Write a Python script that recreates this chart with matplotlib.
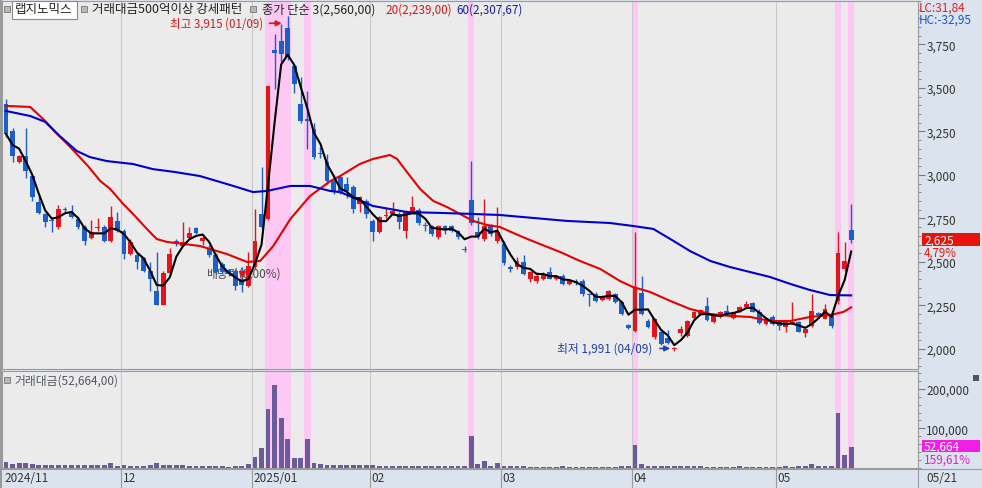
import numpy as np
import pandas as pd
import matplotlib
matplotlib.use("Agg")
import matplotlib.pyplot as plt
from matplotlib.patches import Rectangle
from matplotlib.lines import Line2D
from matplotlib.ticker import FixedLocator, MultipleLocator, FuncFormatter

plt.rcParams['font.family'] = ['Noto Sans CJK KR', 'DejaVu Sans']

# daily candles, 2024-11 .. 2025-05-21 (one row per month in the lists)
opens = [3408, 3253, 3075, 3109, 2994, 2845, 2776, 2740, 2701, 2805, 2787, 2747, 2701, 2638, 2695, 2701, 2621, 2736,
         2678, 2546, 2540, 2523, 2448, 2333, 2253, 2437, 2620, 2592, 2638, 2695, 2620, 2575, 2540, 2488, 2454, 2448, 2402, 2362,
         2471, 2776, 2747, 3720, 3771, 3845, 3629, 3408, 3320, 3264, 3125, 3075, 2965, 2988, 2948, 2931, 2833, 2851,
         2736, 2672, 2765, 2776, 2776, 2678, 2787, 2799, 2710, 2707, 2644, 2707, 2707, 2678, 2575, 2858, 2672, 2632, 2707, 2621,
         2603, 2470, 2470, 2500, 2402, 2393, 2405, 2442, 2402, 2420, 2375, 2388, 2393, 2312, 2316, 2281, 2287, 2316, 2270, 2138,
         2103, 2322, 2163, 2069, 2098, 2063, 1998, 2092, 2075, 2178, 2201, 2247, 2155, 2184, 2218, 2178, 2218, 2241, 2264, 2213, 2144, 2184,
         2155, 2126, 2148, 2155, 2092, 2132, 2207, 2172, 2195, 2276, 2460, 2684]
highs = [3437, 3270, 3115, 3270, 3000, 2880, 2780, 2750, 2830, 2815, 2830, 2760, 2710, 2740, 2750, 2710, 2822, 2790,
         2690, 2630, 2560, 2530, 2500, 2557, 2450, 2580, 2630, 2730, 2700, 2700, 2650, 2600, 2550, 2500, 2460, 2460, 2470, 2557,
         2805, 3046, 3510, 3810, 3868, 3915, 3640, 3563, 3484, 3300, 3160, 3120, 3000, 3000, 2990, 2940, 2880, 2860,
         2745, 2765, 2810, 2845, 2790, 2800, 2879, 2810, 2730, 2715, 2715, 2715, 2712, 2685, 2590, 3082, 2760, 2862, 2720, 2816,
         2620, 2480, 2530, 2540, 2450, 2440, 2445, 2470, 2425, 2430, 2400, 2400, 2400, 2320, 2325, 2312, 2340, 2322, 2275, 2145,
         2672, 2420, 2170, 2178, 2105, 2110, 2010, 2130, 2165, 2218, 2230, 2299, 2195, 2218, 2250, 2212, 2245, 2275, 2268, 2230, 2172, 2195,
         2160, 2160, 2270, 2160, 2120, 2316, 2215, 2258, 2210, 2672, 2615, 2833]
lows = [3220, 3075, 3070, 2983, 2850, 2775, 2700, 2675, 2690, 2790, 2750, 2690, 2600, 2630, 2680, 2615, 2615, 2670,
        2520, 2540, 2460, 2440, 2333, 2253, 2253, 2430, 2590, 2590, 2630, 2660, 2600, 2530, 2430, 2430, 2420, 2340, 2328, 2355,
        2460, 2690, 2740, 3494, 3650, 3660, 3470, 3300, 3149, 3090, 3100, 2950, 2890, 2890, 2870, 2780, 2790, 2750,
        2620, 2665, 2755, 2770, 2690, 2640, 2780, 2715, 2680, 2650, 2630, 2660, 2670, 2635, 2555, 2715, 2630, 2620, 2650, 2610,
        2480, 2445, 2460, 2425, 2385, 2380, 2395, 2400, 2395, 2370, 2370, 2365, 2305, 2247, 2270, 2275, 2280, 2262, 2195, 2115,
        2100, 2195, 2120, 2060, 2025, 2030, 1991, 2075, 2070, 2175, 2198, 2160, 2150, 2180, 2198, 2175, 2215, 2238, 2210, 2145, 2140, 2140,
        2110, 2095, 2145, 2095, 2070, 2128, 2190, 2170, 2120, 2260, 2450, 2610]
closes = [3236, 3109, 3109, 3023, 2874, 2782, 2730, 2736, 2805, 2799, 2759, 2701, 2621, 2672, 2701, 2621, 2759, 2678,
          2546, 2615, 2500, 2448, 2402, 2253, 2437, 2546, 2610, 2615, 2667, 2667, 2640, 2540, 2442, 2442, 2431, 2362, 2370, 2477,
          2621, 2701, 3510, 3700, 3695, 3678, 3523, 3312, 3312, 3103, 3120, 2965, 2902, 2902, 2908, 2805, 2874, 2776,
          2672, 2759, 2772, 2793, 2730, 2793, 2816, 2724, 2705, 2661, 2707, 2690, 2678, 2644, 2570, 2724, 2644, 2707, 2661, 2672,
          2494, 2460, 2508, 2431, 2442, 2420, 2431, 2405, 2420, 2375, 2393, 2383, 2316, 2308, 2278, 2307, 2335, 2270, 2200, 2121,
          2356, 2201, 2126, 2172, 2029, 2034, 2003, 2115, 2161, 2213, 2224, 2167, 2190, 2213, 2201, 2207, 2241, 2258, 2213, 2150, 2167, 2144,
          2132, 2155, 2152, 2098, 2115, 2218, 2195, 2230, 2132, 2550, 2505, 2625]
# trading value (거래대금)
volumes = [16000, 11000, 12600, 13000, 10000, 8400, 8400, 6700, 7500, 8400, 6700, 8400, 6700, 6700, 6700, 7000, 13000, 6000,
           6700, 6000, 6000, 6000, 6700, 13400, 8400, 6700, 6700, 7500, 6000, 6000, 6000, 5000, 5000, 5000, 3400, 5000, 4000, 9000,
           28000, 51000, 150000, 210000, 127000, 74000, 24000, 24000, 74000, 13000, 10000, 8400, 8400, 8400, 7500, 7500, 6700, 6700,
           6700, 6000, 6000, 6000, 5000, 6000, 5000, 5000, 5000, 5000, 5000, 5000, 5000, 5000, 5000, 80000, 11000, 18000, 5000, 12600,
           5000, 5000, 4200, 4200, 3400, 3400, 3400, 3400, 3400, 4200, 3400, 3400, 3400, 3400, 3400, 3400, 3400, 3400, 4200, 4200,
           57000, 10000, 5000, 5000, 5000, 5000, 5000, 4200, 4200, 4200, 4200, 3400, 3400, 3400, 3400, 3400, 4200, 3400, 3400, 3400, 3400, 3400,
           3400, 4200, 3400, 4200, 5000, 11000, 5000, 5000, 5000, 140000, 33000, 52664]

# moving averages (candle index, value)
ma20_x = [0, 3.7, 6, 7.5, 9.8, 12.5, 14.4, 15.9, 17.9, 19.4, 21.5, 23, 24.6, 29.6, 33.7, 36.8, 38.8, 40.8, 43.4,
          46.4, 49.5, 51, 54, 56, 58.6, 59.7, 61.2, 63.2, 65.2, 67.3, 69.3, 71.3, 73.4, 75.4, 78.5, 81.5, 84.6,
          87.6, 90.7, 93.7, 95.7, 98.3, 101.4, 104.4, 107.5, 110.5, 113.6, 116.6, 119.7, 122.7, 125.8, 127.8, 129]
ma20_v = [3397, 3391, 3310, 3247, 3161, 3052, 2965, 2920, 2833, 2776, 2690, 2632, 2615, 2592, 2546, 2500, 2506, 2592, 2747,
          2879, 2965, 2994, 3063, 3092, 3115, 3092, 3017, 2920, 2851, 2816, 2776, 2736, 2713, 2701, 2649, 2603, 2557,
          2506, 2460, 2391, 2356, 2328, 2276, 2230, 2201, 2190, 2184, 2161, 2161, 2184, 2195, 2213, 2239]
ma60_x = [0, 3.7, 6, 8.2, 10.8, 12.8, 15.4, 19.4, 22.4, 25.8, 29.6, 34.7, 37.7, 39.8, 43.4, 46.4, 49.5, 51, 56,
          61.2, 66.3, 71.3, 75.4, 85.6, 92.2, 95.7, 98.8, 101.4, 104.4, 107.5, 110.5, 113.6, 116.6, 119.7, 122.7, 125.8, 129]
ma60_v = [3368, 3339, 3305, 3224, 3138, 3103, 3080, 3063, 3034, 3017, 2994, 2937, 2902, 2908, 2937, 2937, 2908, 2902, 2822,
          2787, 2782, 2776, 2770, 2736, 2724, 2707, 2690, 2632, 2563, 2506, 2471, 2442, 2414, 2374, 2339, 2310, 2308]

highlight = [40, 41, 42, 43, 46, 71, 96, 127, 129]   # 거래대금500억이상 강세패턴 signal days
month_first = [18, 38, 56, 76, 96, 118]
month_labels = ['12', '2025/01', '02', '03', '04', '05']
price_ticks = [2000, 2250, 2500, 2750, 3000, 3250, 3500, 3750]
vol_ticks = [100000, 200000]

W, H = 982, 489
RED, BLUE = '#e3141b', '#1a5fcc'
XMIN, XMAX = -0.61, 139.2


def fx(x):
    return x / W


def fy(y):
    return 1 - y / H


def data_to_figx(i):
    return fx(2) + (i - XMIN) / (XMAX - XMIN) * (916 / W)


idx = np.arange(len(closes))
o, h, l, c = map(np.array, (opens, highs, lows, closes))
up = c >= o
colors = np.where(up, RED, BLUE)
ma3 = pd.Series(closes).rolling(3, min_periods=1).mean()

fig = plt.figure(figsize=(W / 100, H / 100), dpi=100, facecolor='#dbe4ee')
ax = fig.add_axes([fx(2), fy(370), 916 / W, 368 / H], facecolor='#ebebeb')
axv = fig.add_axes([fx(2), fy(469), 916 / W, 97 / H], facecolor='#ebebeb')

for a in (ax, axv):
    a.set_xlim(XMIN, XMAX)
    for i in highlight:
        a.axvspan(i - 0.5, i + 0.5, color='#fdc8f4', lw=0, zorder=0.5)
    for m in month_first:
        a.axvline(m - 0.5, color='#c9c9c9', lw=0.8, zorder=0.6)
    a.tick_params(axis='x', bottom=False, labelbottom=False)
    a.yaxis.tick_right()
    a.tick_params(axis='y', which='major', direction='out', length=5, color='#7a7a7a',
                  labelsize=8.5, labelcolor='#333333', pad=1)
    a.tick_params(axis='y', which='minor', direction='out', length=2.5, color='#7a7a7a')
    for s in a.spines.values():
        s.set_color('#9a9a9a')
        s.set_linewidth(0.8)

# candles
ax.vlines(idx, l, h, colors=colors, lw=1, zorder=3)
body = np.maximum(np.abs(c - o), 6)
ax.bar(idx, body, bottom=np.minimum(o, c), width=0.74, color=colors, lw=0, zorder=4)

ax.plot(ma20_x, ma20_v, color='#e60000', lw=1.5, zorder=5)
ax.plot(ma60_x, ma60_v, color='#0000cc', lw=1.5, zorder=5)
ax.plot(idx, ma3, color='black', lw=1.5, zorder=6)

ax.set_ylim(1885, 4000)
ax.yaxis.set_major_locator(FixedLocator(price_ticks))
ax.yaxis.set_minor_locator(MultipleLocator(50))
ax.yaxis.set_major_formatter(FuncFormatter(lambda v, p: f'{int(v):,}'))

# markers and notes
ax.plot(36, 2431, marker='v', color=RED, ms=5, zorder=7)
ax.text(30.6, 2435, '배당락(0,00%)', fontsize=8.5, color='#4a4a4a', va='center', zorder=2)
ax.text(39.2, 3872, '최고 3,915 (01/09)', fontsize=8.3, color='#d61a1a', ha='right', va='center')
ax.annotate('', xy=(42.5, 3872), xytext=(39.8, 3872),
            arrowprops=dict(arrowstyle='-|>', color='#d61a1a', lw=1.2, mutation_scale=8))
ax.text(98.6, 2003, '최저 1,991 (04/09)', fontsize=8.5, color='#2040b0', ha='right', va='center')
ax.annotate('', xy=(101.8, 2003), xytext=(99.4, 2003),
            arrowprops=dict(arrowstyle='-|>', color='#2040b0', lw=1.2, mutation_scale=8))

# volume
axv.bar(idx, volumes, width=0.74, color='#6a5c9a', lw=0, zorder=3)
axv.set_ylim(0, 245000)
axv.yaxis.set_major_locator(FixedLocator(vol_ticks))
axv.yaxis.set_minor_locator(MultipleLocator(20000))
axv.yaxis.set_major_formatter(FuncFormatter(lambda v, p: f'{int(v):,}'))

# frame pieces
fig.add_artist(Rectangle((0, 0), fx(2), 1, color='#9a9a9a', lw=0))
fig.add_artist(Line2D([0, 1], [fy(469.5), fy(469.5)], color='#9a9a9a', lw=0.8))
fig.add_artist(Line2D([fx(918), fx(918)], [0, fy(469)], color='#9a9a9a', lw=0.8))
for m, lab in zip(month_first, month_labels):
    xf = data_to_figx(m - 0.5)
    fig.add_artist(Line2D([xf, xf], [0, fy(469)], color='#9a9a9a', lw=0.8))
    fig.text(xf + fx(2), fy(479), lab, fontsize=8.5, color='#333333', va='center')
fig.text(fx(4), fy(479), '2024/11', fontsize=8.5, color='#333333', va='center')
fig.text(fx(926), fy(479), '05/21', fontsize=8.5, color='#333333', va='center')


def icon(x, y):
    fig.add_artist(Rectangle((fx(x), fy(y + 6)), fx(6), 6 / H, facecolor='#b8b8b8',
                             edgecolor='#777777', lw=0.6))


# header legend
icon(4, 7)
fig.add_artist(Rectangle((fx(12), fy(20)), fx(65), 18 / H, facecolor='white', edgecolor='#8a8a8a', lw=0.8))
fig.text(fx(15), fy(10), '랩지노믹스', fontsize=9, color='#222222', va='center')
icon(81, 7)
fig.text(fx(92), fy(10), '거래대금500억이상 강세패턴', fontsize=9, color='#222222', va='center')
icon(250, 7)
fig.text(fx(262), fy(10), '종가 단순 3(2,560,00)', fontsize=8.8, color='#222222', va='center')
fig.text(fx(385), fy(10), '20(2,239,00)', fontsize=8.4, color='#dd1111', va='center')
fig.text(fx(456), fy(10), '60(2,307,67)', fontsize=8.4, color='#1a1aaa', va='center')

icon(4, 378)
fig.text(fx(14), fy(381), '거래대금(52,664,00)', fontsize=8.5, color='#555566', va='center')

# right-hand value boxes
fig.text(fx(919), fy(8), 'LC:31,84', fontsize=8.5, color='#dd2222', va='center')
fig.text(fx(919), fy(20), 'HC:-32,95', fontsize=8.5, color='#2255cc', va='center')
fig.add_artist(Rectangle((fx(922), fy(247)), fx(58), 13 / H, color='#e8140c', lw=0))
fig.text(fx(924), fy(241), '2,625', fontsize=8.5, color='white', va='center')
fig.text(fx(924), fy(253), '4,79%', fontsize=8.3, color='#e8140c', va='center')
fig.add_artist(Rectangle((fx(922), fy(453)), fx(58), 12 / H, color='#f01ee6', lw=0))
fig.text(fx(924), fy(447), '52,664', fontsize=8.5, color='white', va='center')
fig.text(fx(924), fy(460), '159,61%', fontsize=8.5, color='#e020d8', va='center')
fig.add_artist(Rectangle((fx(973), fy(382)), fx(6), 6 / H, facecolor='#555555', lw=0))

fig.savefig('out.png', dpi=100, facecolor=fig.get_facecolor())
